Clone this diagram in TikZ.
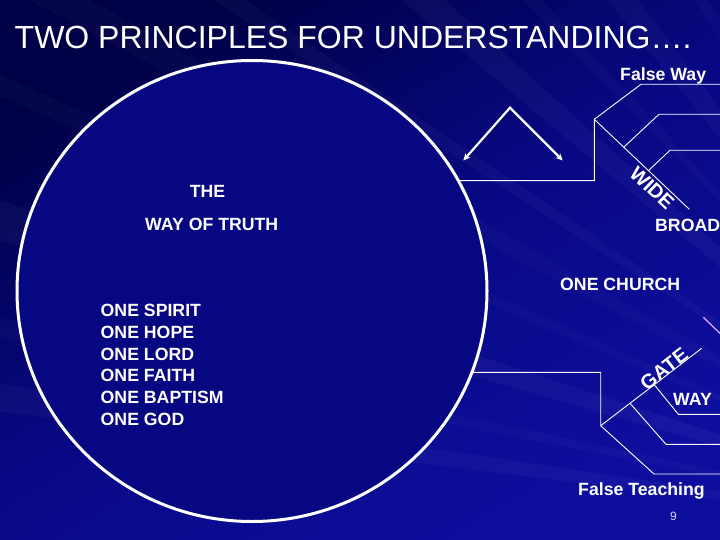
\documentclass[tikz,border=0pt]{standalone}
\usepackage{fontspec}
\setmainfont{Liberation Sans}
\usetikzlibrary{arrows.meta,calc}
\definecolor{bgdark}{RGB}{0,0,70}
\definecolor{bgmid}{RGB}{8,8,132}
\definecolor{bglight}{RGB}{14,14,158}
\definecolor{ringfill}{RGB}{7,7,130}
\definecolor{pinkline}{RGB}{205,160,255}
\tikzset{
  lbl/.style={text=white, font=\bfseries\fontsize{17.7}{21}\selectfont, inner sep=0pt, anchor=base west},
  slant/.style={text=white, font=\bfseries\fontsize{20}{24}\selectfont, inner sep=0pt, anchor=center},
  thinline/.style={white, line width=0.9pt},
  ring/.style={white, line width=3pt, fill=ringfill},
  chev/.style={white, line width=2.2pt, {Stealth[length=7pt,width=6.5pt]}-{Stealth[length=7pt,width=6.5pt]}}
}
\begin{document}
\begin{tikzpicture}[x=1pt,y=-1pt]
\useasboundingbox (0,0) rectangle (720,540);
% background
\shade[top color=bgdark, bottom color=bglight, middle color=bgmid, shading angle=30] (0,0) rectangle (720,540);
\coordinate (F) at (1045,540);
\begin{scope}
\clip (0,0) rectangle (720,540);
\foreach \a/\b/\o in {187/188.5/0.03, 191/192/0.025, 196/198/0.035, 203/204/0.025, 208/209.5/0.025, 213/214/0.03, 220/222/0.035, 226/227/0.025, 231/233/0.03, 237/238/0.025}{
  \fill[white, opacity=\o] (F) -- ($(F)+(\a:1500)$) -- ($(F)+(\b:1500)$) -- cycle;
}
\end{scope}
% title
\node[text=white, font=\fontsize{32}{38}\selectfont, inner sep=0pt, anchor=base west] (title) at (14.5,49) {TWO PRINCIPLES FOR UNDERSTANDING….};
% big circle
\coordinate (cc) at (252,291);
\draw[ring] (cc) ellipse [x radius=235pt, y radius=230.5pt];
% texts inside circle
\node[lbl, anchor=base] (the) at (207.5,198) {THE};
\node[lbl] (wot) at (145,230) {WAY OF TRUTH};
\node[lbl] (o1) at (100.5,316.7) {ONE SPIRIT};
\node[lbl] (o2) at (100.5,338.4) {ONE HOPE};
\node[lbl] (o3) at (100.5,360.1) {ONE LORD};
\node[lbl] (o4) at (100.5,381.8) {ONE FAITH};
\node[lbl] (o5) at (100.5,403.5) {ONE BAPTISM};
\node[lbl] (o6) at (100.5,425.2) {ONE GOD};
% chevron arrows
\coordinate (apex) at (510,107.7);
\coordinate (chL) at (463.3,160.5);
\coordinate (chR) at (562.7,160.5);
\draw[chev, line join=miter] (chL) -- (apex) -- (chR);
% upper structure (wide gate)
\coordinate (u0) at (458.3,180.7);
\coordinate (u1) at (594.3,180.7);
\coordinate (u2) at (594.3,119.3);
\coordinate (u3) at (689.3,209.3);
\coordinate (ua1) at (641,84.3);
\coordinate (ua2) at (720,84.3);
\coordinate (ub0) at ($(u2)!0.31!(u3)$);
\coordinate (ub1) at (659,114.3);
\coordinate (ub2) at (720,114.3);
\coordinate (uc0) at ($(u2)!0.57!(u3)$);
\coordinate (uc1) at (670,150.3);
\coordinate (uc2) at (720,150.3);
\draw[thinline] (u0) -- (u1) -- (u2) -- (ua1) -- (ua2);
\draw[thinline] (u2) -- (u3);
\draw[thinline] (ub0) -- (ub1) -- (ub2);
\draw[thinline] (uc0) -- (uc1) -- (uc2);
\node[lbl] (fway) at (620,80.5) {False Way};
\node[slant, rotate=-43.5] (wide) at (652,188) {WIDE};
\node[lbl] (broad) at (655,231) {BROAD};
\node[lbl] (church) at (560,290) {ONE CHURCH};
% lower structure (gate)
\coordinate (l0) at (471.9,372.3);
\coordinate (l1) at (600.7,372.3);
\coordinate (l2) at (600.7,425.7);
\coordinate (l3) at (701.7,348.3);
\coordinate (la1) at (654,474);
\coordinate (la2) at (720,474);
\coordinate (lb0) at ($(l2)!0.29!(l3)$);
\coordinate (lb1) at (666,444.3);
\coordinate (lb2) at (720,444.3);
\coordinate (lc0) at ($(l2)!0.53!(l3)$);
\coordinate (lc1) at (678.3,414.3);
\coordinate (lc2) at (720,414.3);
\draw[thinline] (l0) -- (l1) -- (l2) -- (l3);
\draw[thinline] (l2) -- (la1) -- (la2);
\draw[thinline] (lb0) -- (lb1) -- (lb2);
\draw[thinline] (lc0) -- (lc1) -- (lc2);
\node[slant, rotate=38] (gate) at (664,369) {GATE};
\node[lbl] (way) at (673,405) {WAY};
\node[lbl] (fteach) at (578,495) {False Teaching};
\node[text=white!85!blue, font=\fontsize{12}{14}\selectfont, inner sep=0pt, anchor=base] (pg) at (673.5,520.7) {9};
% pink stroke
\coordinate (p0) at (703.3,317.3);
\coordinate (p1) at (721,334.3);
\draw[pinkline, line width=1.4pt] (p0) -- (p1);
\end{tikzpicture}
\end{document}
